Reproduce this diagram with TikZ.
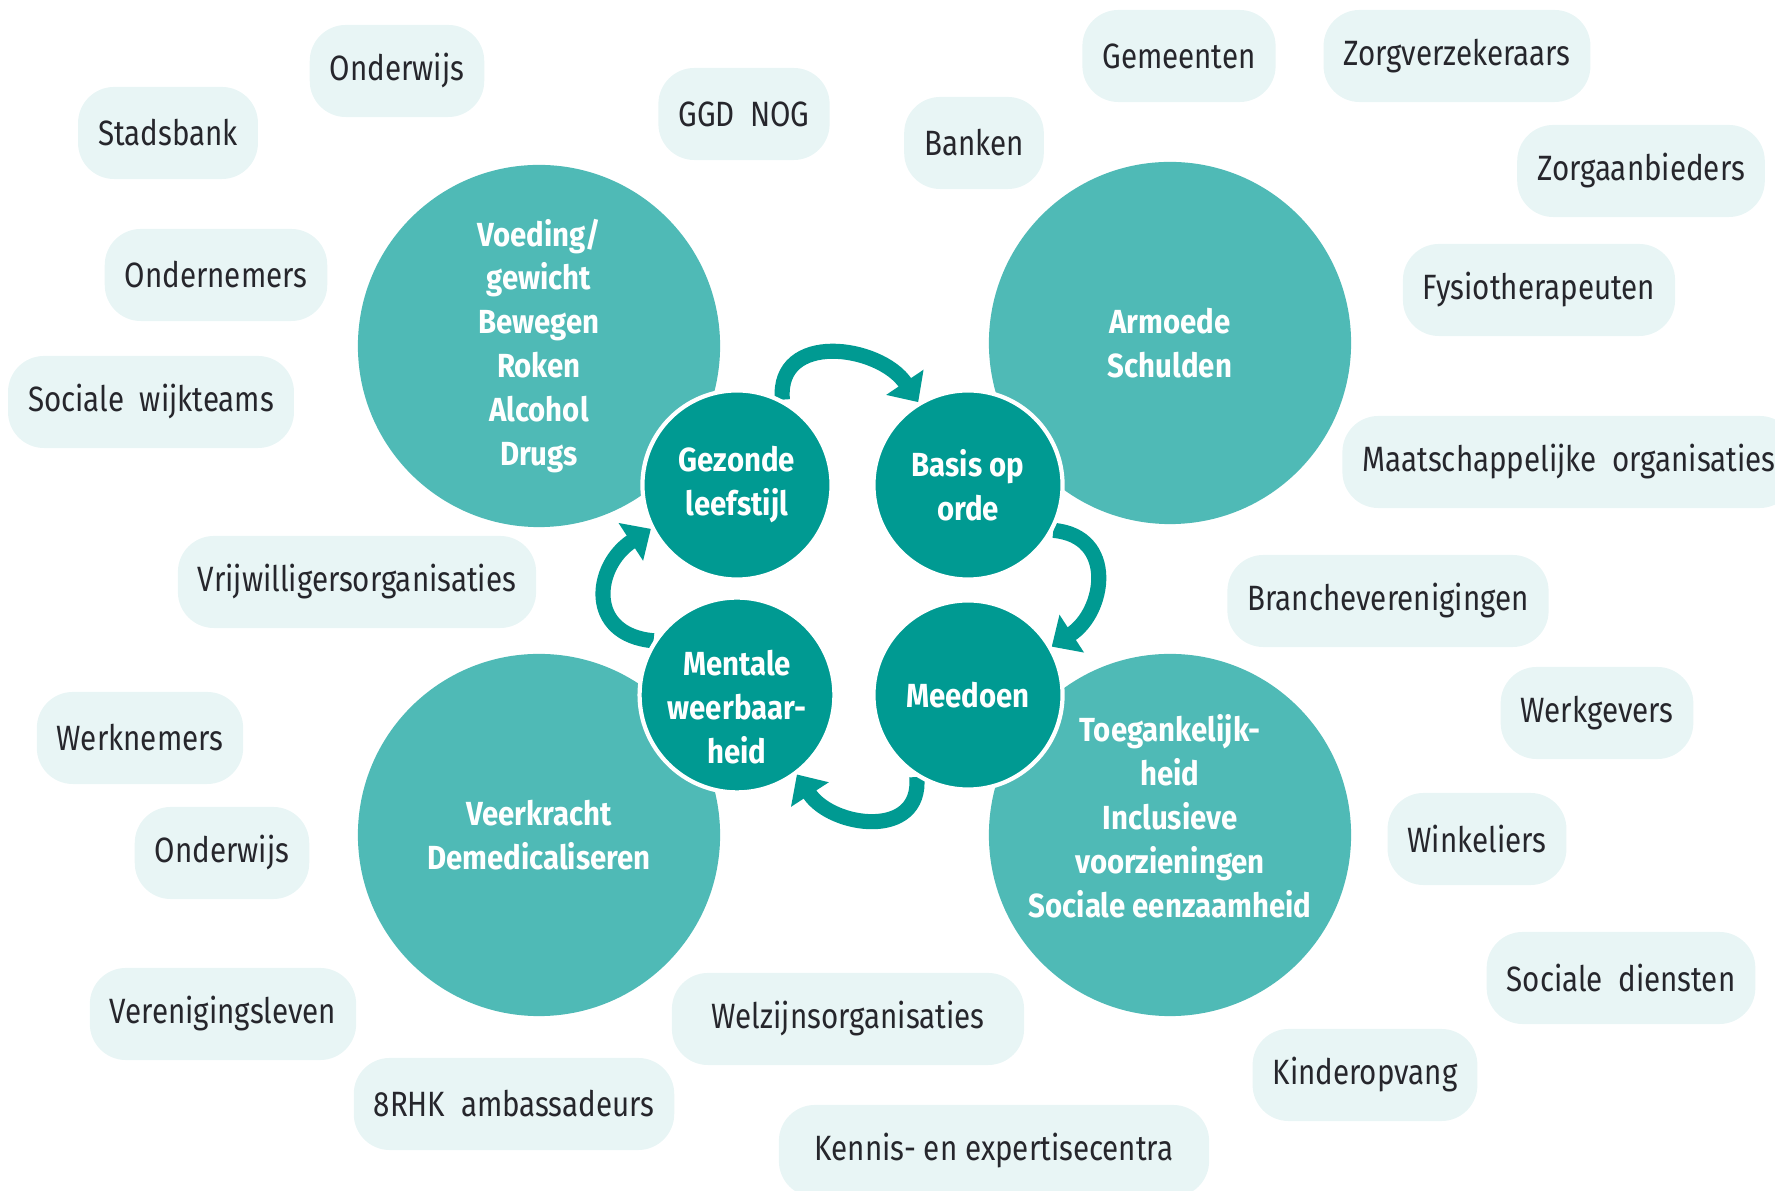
\documentclass[tikz,border=0pt]{standalone}
\usepackage{fontspec}
\setmainfont{Fira Sans}[FakeStretch=0.84]
\newfontfamily\discfont{Fira Sans}[FakeStretch=0.88]
\usepackage{tikz}
\usetikzlibrary{positioning,arrows.meta}
\definecolor{discfill}{RGB}{79,186,182}
\definecolor{corefill}{RGB}{0,154,146}
\definecolor{bubblefill}{RGB}{232,245,245}
\definecolor{bubbletext}{RGB}{38,38,44}
\pgfdeclarelayer{bg}
\pgfsetlayers{bg,main}
\tikzset{
  bigdisc/.style={circle, fill=discfill, minimum size=3.62cm, inner sep=0pt},
  disctext/.style={text=white, align=center, font=\discfont\bfseries\fontsize{9.5}{12.5}\selectfont},
  coredisc/.style={circle, fill=corefill, draw=white, line width=1.2pt, minimum size=1.89cm,
    inner sep=0pt, disctext},
  bubble/.style={rounded corners=0.36cm, fill=bubblefill, text=bubbletext, minimum height=0.92cm,
    inner xsep=0.2cm, font=\fontsize{10}{12}\selectfont},
  looparrow/.style={draw=corefill, line width=4.3pt, -{Triangle[width=12.4pt,length=6.8pt]}},
}

\begin{document}
\begin{tikzpicture}[x=0.01cm, y=0.01cm]
    \useasboundingbox (0,0) rectangle (1775,1191);
    \clip (0,0) rectangle (1775,1191);
    % big discs
    \begin{pgfonlayer}{bg}
    \node[bigdisc, disctext] (leefdisc) at (539,845) {Voeding/\\gewicht\\Bewegen\\Roken\\Alcohol\\Drugs};
    \node[bigdisc, disctext] (basisdisc) at (1170,848) {Armoede\\Schulden};
    \node[bigdisc, disctext] (mentaaldisc) at (539,356) {Veerkracht\\Demedicaliseren};
    \node[bigdisc] (meedisc) at (1170,356) {};
    \node[disctext] (meetext) at ([yshift=0.19cm]meedisc.center)
        {Toegankelijk-\\heid\\Inclusieve\\voorzieningen\\Sociale eenzaamheid};
    \end{pgfonlayer}
    % core discs
    \node[coredisc] (gez) at (737,706) {Gezonde\\leefstijl};
    \node[coredisc] (bas) at (968,706) {Basis op\\orde};
    \node[coredisc] (men) at (737,496) {\rule{0pt}{14pt}Mentale\\weerbaar-\\heid};
    \node[coredisc] (mee) at (968,496) {Meedoen};
    % cycle
    \begin{pgfonlayer}{bg}
    \draw[looparrow] (gez.62) to[out=95, in=124, looseness=1.3] (bas.121);
    \draw[looparrow] (bas.-28) to[out=-5, in=33, looseness=1.4] (mee.30);
    \draw[looparrow] (mee.-122) to[out=-85, in=-57, looseness=1.35] (men.-53);
    \draw[looparrow] (men.147) to[out=175, in=213, looseness=1.55] (gez.207);
    \end{pgfonlayer}
    % partners top
    \node[bubble] (onderwijsa) at (397,1120) {Onderwijs};
    \node[bubble] (stadsbank) at (168,1058) {Stadsbank};
    \node[bubble] (ggd) at (744,1077) {GGD~~NOG};
    \node[bubble] (banken) at (974,1048) {Banken};
    \node[bubble] (gemeenten) at (1179,1135) {Gemeenten};
    \node[bubble] (zorgverz) at (1457,1135) {Zorgverzekeraars};
    % partners right
    \node[bubble] (zorgaanb) at (1641,1020) {Zorgaanbieders};
    \node[bubble] (fysio) at (1539,901) {Fysiotherapeuten};
    \node[bubble] (maatsch) at (1569,729) {Maatschappelijke~~organisaties};
    \node[bubble] (branche) at (1388,590) {Brancheverenigingen};
    \node[bubble] (werkgevers) at (1597,478) {Werkgevers};
    \node[bubble] (winkeliers) at (1477,352) {Winkeliers};
    \node[bubble] (socdiensten) at (1621,213) {Sociale~~diensten};
    % partners bottom
    \node[bubble] (kinderopvang) at (1365,116) {Kinderopvang};
    \node[bubble, minimum width=4.3cm] (kennis) at (994,40) {Kennis- en expertisecentra};
    \node[bubble, minimum width=3.52cm] (welzijn) at (848,172) {Welzijnsorganisaties};
    \node[bubble] (ambassadeurs) at (514,87) {8RHK~~ambassadeurs};
    \node[bubble] (verenigingen) at (223,177) {Verenigingsleven};
    % partners left
    \node[bubble] (onderwijsb) at (222,338) {Onderwijs};
    \node[bubble] (werknemers) at (140,453) {Werknemers};
    \node[bubble] (vrijwilligers) at (357,609) {Vrijwilligersorganisaties};
    \node[bubble] (wijkteams) at (151,789) {Sociale~~wijkteams};
    \node[bubble] (ondernemers) at (216,916) {Ondernemers};
\end{tikzpicture}
\end{document}
